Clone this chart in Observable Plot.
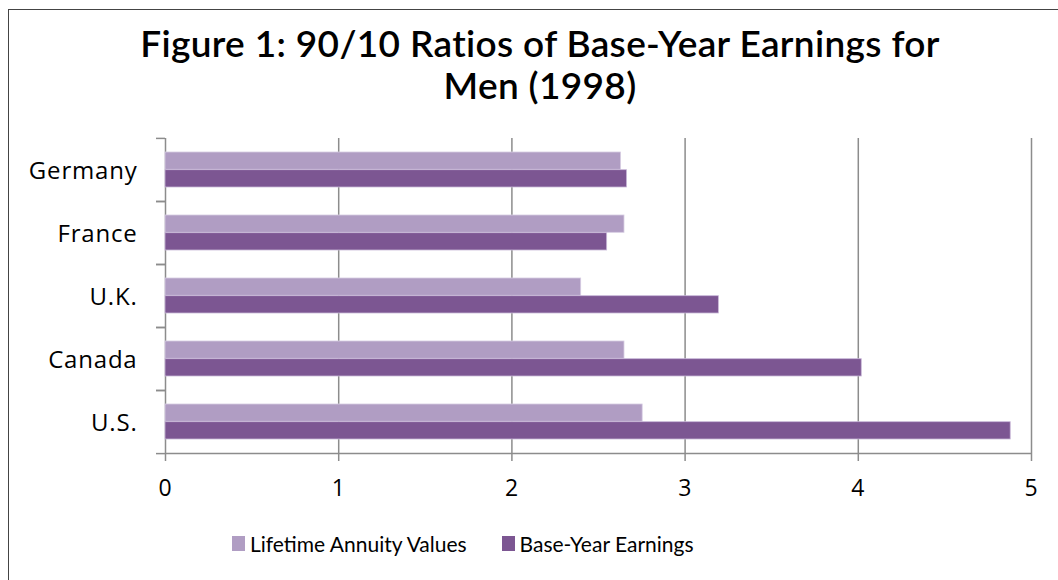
<!DOCTYPE html>
<html>
<head>
<meta charset="utf-8">
<script src="https://cdn.jsdelivr.net/npm/d3@7"></script>
<script src="https://cdn.jsdelivr.net/npm/@observablehq/plot@0.6"></script>
<style>
  html, body { margin: 0; padding: 0; background: #fff; }
  #wrap { position: relative; width: 1058px; height: 580px; overflow: hidden; }
  #frame { position: absolute; left: 8px; top: 9px; width: 1200px; height: 700px; border: 1.5px solid #444; box-sizing: border-box; }
  #title { position: absolute; left: 40px; width: 1000px; top: 22px; text-align: center;
           font-family: Lato, sans-serif; font-weight: 600; font-size: 37px; letter-spacing: 0.35px; line-height: 42px; color: #000; }
  #chart { position: absolute; left: 0; top: 110px; }
  #legend { position: absolute; top: 531px; left: 232px; font-family: Lato, sans-serif; font-size: 21px; color: #000; display: flex; align-items: center; }
  .sw { display: inline-block; width: 13px; height: 15px; margin-right: 5px; }
  .item { display: flex; align-items: center; margin-right: 35px; }
</style>
</head>
<body>
<div id="wrap">
  <div id="frame"></div>
  <div id="title">Figure 1: 90/10 Ratios of Base-Year Earnings for<br>Men (1998)</div>
  <div id="chart"></div>
  <div id="legend"></div>
</div>
<script>
const countries = ["Germany", "France", "U.K.", "Canada", "U.S."];
const lifetimeAnnuity = [2.63, 2.65, 2.40, 2.65, 2.755];
const baseYearEarnings = [2.665, 2.55, 3.195, 4.02, 4.88];
const seriesNames = ["Lifetime Annuity Values", "Base-Year Earnings"];
const seriesColors = ["#b09dc3", "#7c5692"];
const xTicks = [0, 1, 2, 3, 4, 5];

const light = countries.map((c, i) => ({country: c, value: lifetimeAnnuity[i]}));
const dark = countries.map((c, i) => ({country: c, value: baseYearEarnings[i]}));

const H = 410, mT = 28, mB = 66;
const step = (H - mT - mB) / countries.length;
const half = step * 0.56 / 2;
const grid = "#8c8c8c";

const chart = Plot.plot({
  width: 1058,
  height: H,
  marginLeft: 165,
  marginRight: 27,
  marginTop: mT,
  marginBottom: mB,
  style: {fontFamily: "'Open Sans', sans-serif", fontSize: "23px", color: "#000", background: "transparent", letterSpacing: "0.8px"},
  x: {domain: [0, 5], ticks: xTicks},
  y: {domain: countries, paddingInner: 0.44, paddingOuter: 0.22},
  marks: [
    Plot.ruleX(xTicks, {stroke: grid, strokeWidth: 1.5}),
    Plot.ruleY([countries[countries.length - 1]], {dy: step / 2, stroke: grid, strokeWidth: 1.5}),
    Plot.barX(light, {y: "country", x: "value", fill: seriesColors[0], insetBottom: half, stroke: "#d6cce2", strokeWidth: 0.8}),
    Plot.barX(dark, {y: "country", x: "value", fill: seriesColors[1], insetTop: half, stroke: "#c9b8d8", strokeWidth: 0.8}),
    Plot.axisX({ticks: xTicks, tickFormat: d3.format("d"), tickSize: 7, tickPadding: 18, stroke: grid, strokeWidth: 1.5, fontSize: 23, label: null}),
    Plot.axisY({tickSize: 0, tickPadding: 28, fontSize: 24, dy: 1, label: null}),
    Plot.axisY({tickSize: 9, tickFormat: () => "", dy: step / 2, stroke: grid, strokeWidth: 1.5, label: null}),
    Plot.axisY({tickSize: 9, tickFormat: () => "", dy: -step / 2, stroke: grid, strokeWidth: 1.5, label: null})
  ]
});
document.getElementById("chart").appendChild(chart);

const lg = document.getElementById("legend");
seriesNames.forEach((n, i) => {
  const it = document.createElement("span");
  it.className = "item";
  const sw = document.createElement("span");
  sw.className = "sw";
  sw.style.background = seriesColors[i];
  it.appendChild(sw);
  it.appendChild(document.createTextNode(n));
  lg.appendChild(it);
});
</script>
</body>
</html>
